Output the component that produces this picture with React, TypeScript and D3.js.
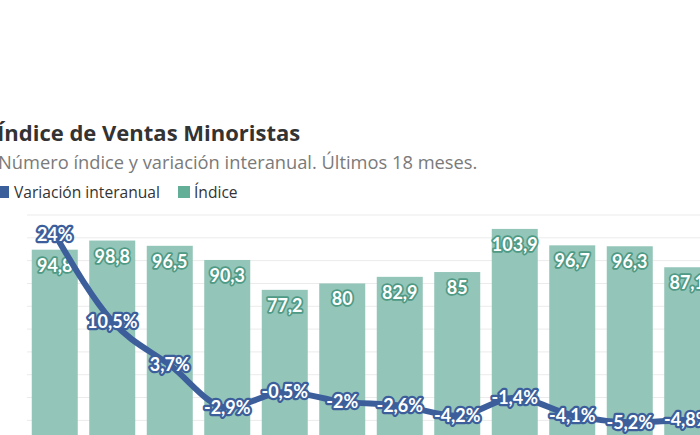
import React, { useEffect, useRef } from 'react';
import * as d3 from 'd3';

const months = ['m1', 'm2', 'm3', 'm4', 'm5', 'm6', 'm7', 'm8', 'm9', 'm10', 'm11', 'm12'];
const indice = [94.8, 98.8, 96.5, 90.3, 77.2, 80, 82.9, 85, 103.9, 96.7, 96.3, 87.1];
const variacion = [24, 10.5, 3.7, -2.9, -0.5, -2, -2.6, -4.2, -1.4, -4.1, -5.2, -4.8];
const gridTicks = [0, 10, 20, 30, 40, 50, 60, 70, 80, 90, 100, 110];

const FONT = '"Open Sans", Lato, sans-serif';
const LABEL_FONT = 'Lato, "Open Sans", sans-serif';
const fmt = (v: number) => String(v).replace('.', ',');

const App: React.FC = () => {
  const ref = useRef<SVGSVGElement>(null);

  useEffect(() => {
    if (!ref.current) return;
    const width = 700;
    const height = 435;
    const svg = d3.select(ref.current).attr('width', width).attr('height', height);
    svg.selectAll('*').remove();

    // titles
    svg.append('text')
      .attr('x', -3).attr('y', 141)
      .attr('font-family', FONT).attr('font-size', 22).attr('font-weight', 700)
      .attr('fill', '#333')
      .text('Índice de Ventas Minoristas');
    svg.append('text')
      .attr('x', -2).attr('y', 169)
      .attr('font-family', FONT).attr('font-size', 18.3)
      .attr('fill', '#7a7a7a')
      .text('Número índice y variación interanual. Últimos 18 meses.');

    // legend
    const legend = svg.append('g').attr('font-family', FONT).attr('font-size', 15.6).attr('fill', '#333');
    legend.append('rect').attr('x', -2).attr('y', 186).attr('width', 11).attr('height', 12).attr('fill', '#3b5f9b');
    legend.append('text').attr('x', 14).attr('y', 198).text('Variación interanual');
    legend.append('rect').attr('x', 178).attr('y', 186).attr('width', 12).attr('height', 12).attr('fill', '#62ae97');
    legend.append('text').attr('x', 194).attr('y', 198).text('Índice');

    const x = d3.scaleBand<string>()
      .domain(months)
      .range([26, 26 + 12 * 57.5])
      .paddingInner(0.2)
      .paddingOuter(0.1);
    const y = d3.scaleLinear().domain([0, 110]).range([466, 215]);
    const y2 = d3.scaleLinear().domain([-12, 27]).range([466, 215]);

    // grid
    svg.append('g')
      .selectAll('line')
      .data(gridTicks)
      .enter()
      .append('line')
      .attr('x1', 27).attr('x2', width)
      .attr('y1', d => y(d)).attr('y2', d => y(d))
      .attr('stroke', '#ebebeb').attr('stroke-width', 1);

    // bars
    svg.append('g')
      .selectAll('rect')
      .data(indice)
      .enter()
      .append('rect')
      .attr('x', (_, i) => x(months[i])!)
      .attr('y', d => y(d))
      .attr('width', x.bandwidth())
      .attr('height', d => y(0) - y(d))
      .attr('fill', '#93c5b8');

    svg.append('g')
      .attr('font-family', LABEL_FONT).attr('font-size', 18).attr('font-weight', 700)
      .attr('text-anchor', 'middle')
      .selectAll('text')
      .data(indice)
      .enter()
      .append('text')
      .attr('x', (_, i) => x(months[i])! + x.bandwidth() / 2)
      .attr('y', d => y(d) + 22)
      .attr('fill', '#fff')
      .attr('stroke', '#4f9a85').attr('stroke-width', 3.5)
      .attr('stroke-linejoin', 'round')
      .attr('paint-order', 'stroke')
      .text(d => fmt(d));

    // line
    const line = d3.line<number>()
      .x((_, i) => x(months[i])! + x.bandwidth() / 2)
      .y(d => y2(d))
      .curve(d3.curveMonotoneX);
    svg.append('path')
      .datum(variacion)
      .attr('d', line)
      .attr('fill', 'none')
      .attr('stroke', '#3c5f9c')
      .attr('stroke-width', 6)
      .attr('stroke-linejoin', 'round');

    svg.append('g')
      .attr('font-family', LABEL_FONT).attr('font-size', 18).attr('font-weight', 700)
      .attr('text-anchor', 'middle')
      .selectAll('text')
      .data(variacion)
      .enter()
      .append('text')
      .attr('x', (_, i) => x(months[i])! + x.bandwidth() / 2)
      .attr('y', d => y2(d) + 6.5)
      .attr('fill', '#fff')
      .attr('stroke', '#3c5f9c').attr('stroke-width', 4.5)
      .attr('stroke-linejoin', 'round')
      .attr('paint-order', 'stroke')
      .text(d => fmt(d) + '%');
  }, []);

  return <svg ref={ref} style={{ position: 'absolute', left: 0, top: 0, background: '#fff' }}></svg>;
};

export default App;
